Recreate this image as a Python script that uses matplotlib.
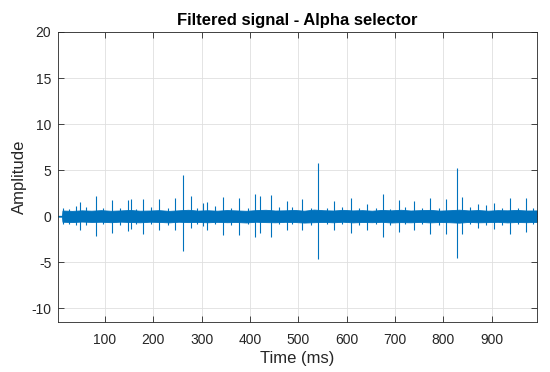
import matplotlib
matplotlib.use('Agg')
import matplotlib.pyplot as plt

plt.rcParams['font.family'] = ['Liberation Sans', 'DejaVu Sans']
plt.rcParams['axes.unicode_minus'] = False

# Zeitachse und Grenzen
x_lim = [3.4, 993]
y_lim = [-11.5, 20]
x_ticks = [100, 200, 300, 400, 500, 600, 700, 800, 900]
y_ticks = [-10, -5, 0, 5, 10, 15, 20]

# Rauschband (Hüllkurve)
band_t = [3, 11, 12, 32, 52, 72, 92, 112, 132, 152, 172, 192, 212, 232, 252,
          272, 292, 312, 332, 352, 372, 392, 412, 432, 452, 472, 492, 512,
          532, 552, 572, 592, 612, 632, 652, 672, 692, 712, 732, 752, 772,
          792, 812, 832, 852, 872, 892, 912, 932, 952, 972, 993]
band_hi = [0.05, 0.05, 0.62, 0.58, 0.64, 0.60, 0.66, 0.59, 0.63, 0.68, 0.60,
           0.62, 0.66, 0.58, 0.64, 0.70, 0.61, 0.65, 0.60, 0.67, 0.63, 0.59,
           0.66, 0.70, 0.62, 0.64, 0.68, 0.60, 0.72, 0.65, 0.62, 0.69, 0.63,
           0.66, 0.60, 0.68, 0.64, 0.70, 0.62, 0.66, 0.69, 0.61, 0.65, 0.71,
           0.63, 0.67, 0.60, 0.66, 0.64, 0.68, 0.62, 0.63]
band_lo = [-0.05, -0.05, -0.60, -0.63, -0.58, -0.62, -0.60, -0.65, -0.59,
           -0.63, -0.66, -0.60, -0.62, -0.67, -0.60, -0.64, -0.62, -0.66,
           -0.61, -0.65, -0.63, -0.68, -0.60, -0.64, -0.66, -0.61, -0.63,
           -0.69, -0.65, -0.62, -0.66, -0.60, -0.67, -0.63, -0.65, -0.61,
           -0.68, -0.64, -0.66, -0.62, -0.67, -0.63, -0.65, -0.70, -0.62,
           -0.66, -0.64, -0.61, -0.67, -0.63, -0.65, -0.62]

# Kleine Ausreißer im Rauschen
small_t = [14, 25, 60, 95, 130, 165, 195, 230, 290, 327, 360, 395, 460, 486,
           525, 560, 590, 625, 660, 690, 720, 755, 790, 855, 920, 955, 985]
small_hi = [0.85, 0.80, 0.95, 0.85, 0.90, 0.80, 0.95, 0.85, 0.90, 1.10, 0.85,
            0.90, 0.95, 1.00, 0.85, 0.90, 0.95, 0.85, 0.90, 0.80, 0.95, 0.90,
            0.85, 0.95, 0.85, 0.90, 0.85]
small_lo = [-0.80, -0.85, -0.90, -0.80, -0.95, -0.85, -0.80, -0.90, -0.85,
            -0.80, -0.90, -0.85, -0.80, -0.80, -0.90, -0.85, -0.80, -0.95,
            -0.85, -0.90, -0.80, -0.85, -0.90, -0.80, -0.90, -0.85, -0.80]

# Spitzen (Zeit, Maximum, Minimum)
spike_t = [40, 48, 81, 114, 147, 154, 179, 212, 245, 261, 278, 303, 311, 343,
           377, 410, 421, 443, 476, 508, 541, 574, 608, 641, 674, 707, 739,
           772, 805, 828, 839, 871, 888, 905, 937, 970]
spike_hi = [1.10, 1.55, 2.17, 1.75, 1.75, 1.92, 1.85, 1.92, 2.03, 4.45, 2.17,
            1.45, 1.56, 2.10, 2.00, 2.45, 2.20, 2.35, 1.67, 1.92, 5.80, 1.67,
            2.00, 1.30, 2.45, 1.75, 1.63, 2.03, 1.92, 5.20, 2.10, 1.38, 1.27,
            1.45, 2.03, 2.03]
spike_lo = [-0.90, -1.45, -2.17, -1.80, -1.63, -1.35, -1.95, -1.50, -1.50,
            -3.80, -1.25, -1.10, -1.50, -2.07, -2.07, -2.30, -1.80, -2.30,
            -1.50, -1.50, -4.60, -1.50, -1.80, -1.50, -2.30, -1.70, -1.45,
            -1.90, -1.90, -4.50, -1.95, -1.23, -0.90, -1.34, -1.90, -1.70]

blue = '#0072BD'
frame = '#262626'

fig = plt.figure(figsize=(5.5, 3.72), dpi=100)
ax = fig.add_axes([0.106, 0.134, 0.870, 0.780])

ax.fill_between(band_t, band_lo, band_hi, color=blue, linewidth=0.6,
                edgecolor=blue)
ax.vlines(small_t, small_lo, small_hi, color=blue, linewidth=0.8)
ax.vlines(spike_t, spike_lo, spike_hi, color=blue, linewidth=0.8)

ax.set_xlim(x_lim)
ax.set_ylim(y_lim)
ax.set_xticks(x_ticks)
ax.set_yticks(y_ticks)
ax.grid(True, color='#dfdfdf', linewidth=0.6)
ax.set_axisbelow(True)
for s in ax.spines.values():
    s.set_color(frame)
    s.set_linewidth(0.6)
ax.tick_params(direction='in', length=4, width=0.6, color=frame,
               top=True, right=True, labelsize=10, labelcolor=frame)
ax.tick_params(axis='x', pad=8)
ax.tick_params(axis='y', pad=5)

ax.set_xlabel('Time (ms)', fontsize=12, color=frame, labelpad=3)
ax.set_ylabel('Amplitude', fontsize=12, color=frame, labelpad=3)
ax.set_title('Filtered signal - Alpha selector', fontsize=12,
             fontweight='bold', color='black', pad=5)

fig.savefig('out.png', dpi=100)
